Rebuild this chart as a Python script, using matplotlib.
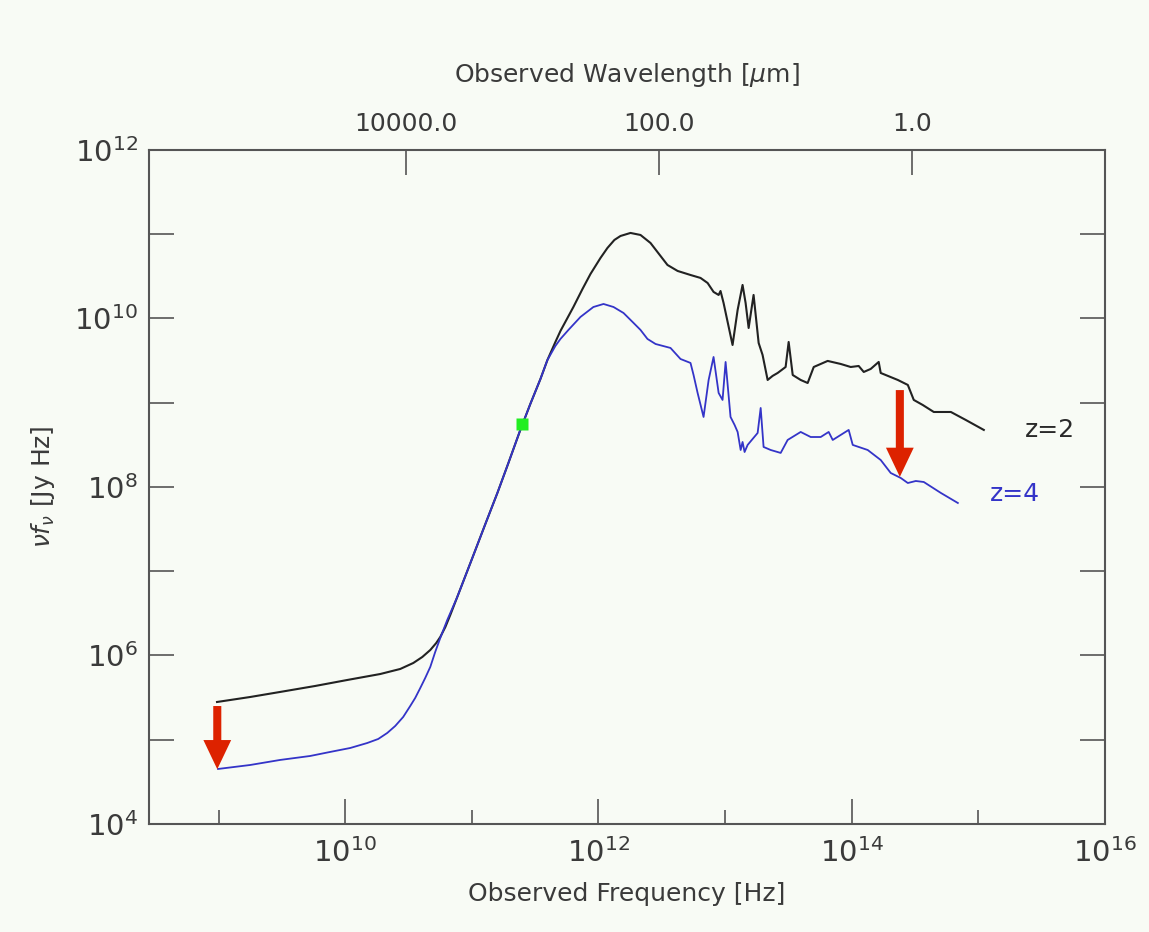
import numpy as np
import matplotlib
matplotlib.use("Agg")
import matplotlib.pyplot as plt
from matplotlib.patches import FancyArrowPatch

# Spectral energy distribution, log10 of observed frequency [Hz] and nu*f_nu [Jy Hz]
log_nu_z2 = [8.988, 9.249, 9.486, 9.763, 10.016, 10.277, 10.435, 10.538, 10.609, 10.672,
             10.719, 10.751, 10.791, 10.830, 10.885, 11.004, 11.107, 11.202, 11.289, 11.383,
             11.462, 11.542, 11.597, 11.660, 11.700, 11.802, 11.874, 11.937, 12.016, 12.071,
             12.126, 12.174, 12.253, 12.332, 12.411, 12.490, 12.545, 12.625, 12.727, 12.806,
             12.862, 12.909, 12.949, 12.964, 12.988, 13.059, 13.099, 13.138, 13.162, 13.186,
             13.225, 13.265, 13.296, 13.336, 13.375, 13.415, 13.478, 13.502, 13.534, 13.597,
             13.652, 13.700, 13.810, 13.913, 13.992, 14.055, 14.095, 14.150, 14.213, 14.229,
             14.364, 14.443, 14.490, 14.561, 14.648, 14.783, 14.901, 15.043]
log_nufnu_z2 = [5.448, 5.507, 5.567, 5.638, 5.709, 5.780, 5.840, 5.911, 5.982, 6.065,
                6.148, 6.220, 6.338, 6.481, 6.694, 7.157, 7.561, 7.929, 8.285, 8.677,
                8.985, 9.282, 9.507, 9.721, 9.852, 10.136, 10.350, 10.528, 10.718, 10.837,
                10.932, 10.979, 11.015, 10.991, 10.896, 10.742, 10.635, 10.564, 10.516, 10.481,
                10.421, 10.315, 10.279, 10.326, 10.184, 9.685, 10.101, 10.398, 10.184, 9.887,
                10.279, 9.709, 9.567, 9.270, 9.318, 9.353, 9.424, 9.721, 9.329, 9.270,
                9.234, 9.424, 9.496, 9.460, 9.424, 9.436, 9.365, 9.401, 9.484, 9.353,
                9.270, 9.211, 9.033, 8.973, 8.890, 8.890, 8.795, 8.677]

log_nu_z4 = [8.996, 9.249, 9.486, 9.723, 9.881, 10.040, 10.174, 10.261, 10.332, 10.395,
             10.458, 10.514, 10.553, 10.593, 10.632, 10.672, 10.711, 10.751, 10.806, 10.885,
             11.004, 11.107, 11.202, 11.289, 11.383, 11.462, 11.542, 11.597, 11.660, 11.700,
             11.763, 11.858, 11.960, 12.040, 12.119, 12.198, 12.277, 12.332, 12.387, 12.451,
             12.569, 12.648, 12.727, 12.751, 12.783, 12.830, 12.870, 12.909, 12.949, 12.980,
             13.004, 13.043, 13.075, 13.099, 13.123, 13.138, 13.154, 13.178, 13.257, 13.281,
             13.304, 13.360, 13.439, 13.494, 13.597, 13.676, 13.755, 13.818, 13.850, 13.976,
             14.008, 14.126, 14.229, 14.308, 14.387, 14.443, 14.506, 14.569, 14.704, 14.838]
log_nufnu_z4 = [4.653, 4.700, 4.760, 4.807, 4.855, 4.902, 4.961, 5.009, 5.080, 5.163,
                5.270, 5.401, 5.496, 5.614, 5.733, 5.864, 6.042, 6.208, 6.421, 6.694,
                7.157, 7.561, 7.929, 8.285, 8.677, 8.985, 9.282, 9.507, 9.674, 9.757,
                9.864, 10.018, 10.136, 10.172, 10.136, 10.065, 9.947, 9.864, 9.757, 9.697,
                9.650, 9.519, 9.472, 9.329, 9.116, 8.831, 9.270, 9.543, 9.116, 9.033,
                9.484, 8.831, 8.736, 8.653, 8.439, 8.534, 8.415, 8.499, 8.641, 8.938,
                8.475, 8.439, 8.404, 8.558, 8.653, 8.593, 8.593, 8.653, 8.558, 8.677,
                8.499, 8.439, 8.320, 8.166, 8.107, 8.047, 8.071, 8.059, 7.929, 7.810]

# Normalisation point shared by both redshifts
pivot_log_nu = 11.399
pivot_log_nufnu = 8.748

# Dimming arrows: (log nu, log start, log end)
arrow_log_nu = [8.99, 14.38]
arrow_log_start = [5.40, 9.15]
arrow_log_end = [4.65, 8.12]

wavelength_ticks_um = [10000.0, 100.0, 1.0]
c_um_per_s = 2.998e14

bg = "#f8fbf5"
frame = "#555555"
text_c = "#3a3a3a"

plt.rcParams["font.family"] = ["DejaVu Sans"]
plt.rcParams["mathtext.fontset"] = "dejavusans"

fig = plt.figure(figsize=(11.49, 9.32), dpi=100, facecolor=bg)
ax = fig.add_axes([0.1297, 0.1159, 0.8320, 0.7232], facecolor=bg)

nu2 = 10 ** np.array(log_nu_z2)
f2 = 10 ** np.array(log_nufnu_z2)
nu4 = 10 ** np.array(log_nu_z4)
f4 = 10 ** np.array(log_nufnu_z4)

ax.plot(nu2, f2, color="#222222", lw=1.5, zorder=3, solid_joinstyle="round")
ax.plot(nu4, f4, color="#3434c8", lw=1.3, zorder=3, solid_joinstyle="round")
ax.plot([10 ** pivot_log_nu], [10 ** pivot_log_nufnu], "s", color="#22ee22",
        ms=8, mec="none", zorder=4)

for xn, y0, y1 in zip(arrow_log_nu, arrow_log_start, arrow_log_end):
    arr = FancyArrowPatch((10 ** xn, 10 ** y0), (10 ** xn, 10 ** y1),
                          arrowstyle="simple,head_length=21,head_width=20,tail_width=5.8",
                          mutation_scale=1, color="#dd2200", lw=0,
                          shrinkA=0, shrinkB=0, zorder=5)
    ax.add_patch(arr)

ax.set_xscale("log")
ax.set_yscale("log")
ax.set_xlim(10 ** 8.451, 1e16)
ax.set_ylim(1e4, 1e12)

for sp in ax.spines.values():
    sp.set_color(frame)
    sp.set_linewidth(1.5)

xmaj = [1e10, 1e12, 1e14, 1e16]
ax.set_xticks(xmaj)
ax.set_xticklabels([r"$10^{10}$", r"$10^{12}$", r"$10^{14}$", r"$10^{16}$"])
ax.set_xticks([1e9, 1e11, 1e13, 1e15], minor=True)
ax.set_xticklabels([], minor=True)

ymaj = [1e4, 1e6, 1e8, 1e10, 1e12]
ax.set_yticks(ymaj)
ax.set_yticklabels([r"$10^{4}$", r"$10^{6}$", r"$10^{8}$", r"$10^{10}$", r"$10^{12}$"])
ax.set_yticks([1e5, 1e7, 1e9, 1e11], minor=True)
ax.set_yticklabels([], minor=True)

ax.tick_params(axis="x", which="major", direction="in", length=18, width=1.2,
               color=frame, labelsize=21, labelcolor=text_c, pad=10, top=False)
ax.tick_params(axis="x", which="minor", direction="in", length=10, width=1.2,
               color=frame, top=False)
ax.tick_params(axis="y", which="both", direction="in", length=18, width=1.2,
               color=frame, labelsize=21, labelcolor=text_c, pad=8, right=True)

ax.set_xlabel("Observed Frequency [Hz]", fontsize=18, color=text_c, labelpad=10)
ax.set_ylabel(r"$\nu f_\nu$ [Jy Hz]", fontsize=18, color=text_c, labelpad=12)

# Top axis in observed wavelength
top = ax.twiny()
top.set_xscale("log")
top.set_xlim(ax.get_xlim())
top.set_xticks([c_um_per_s / w for w in wavelength_ticks_um])
top.set_xticklabels([f"{w:.1f}" for w in wavelength_ticks_um])
top.set_xticks([], minor=True)
top.tick_params(axis="x", which="major", direction="in", length=18, width=1.2,
                color=frame, labelsize=18, labelcolor=text_c, pad=10)
top.set_xlabel(r"Observed Wavelength [$\mu$m]", fontsize=18, color=text_c, labelpad=22)
for sp in top.spines.values():
    sp.set_visible(False)

ax.text(10 ** 15.37, 10 ** 8.68, "z=2", fontsize=18, color="#2a2a2a",
        ha="left", va="center")
ax.text(10 ** 15.09, 10 ** 7.92, "z=4", fontsize=18, color="#3434c8",
        ha="left", va="center")

fig.savefig("out.png", dpi=100, facecolor=bg)
